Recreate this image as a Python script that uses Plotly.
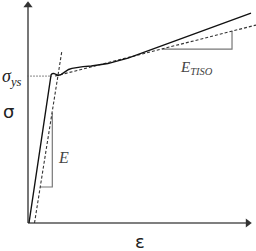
import plotly.graph_objects as go

# Schematic stress-strain curve (arbitrary units)
strain_curve = [0.45, 10.4, 10.9, 11.6, 12.6, 13.6, 15.0, 16.7, 18.3, 19.8, 22.0, 24.8, 28.5, 32.4, 36.0, 39.2, 45.05, 100.45]
stress_curve = [0.0, 67.4, 67.9, 68.0, 67.6, 67.1, 67.6, 68.9, 69.8, 70.3, 70.8, 71.1, 71.4, 71.8, 72.5, 73.4, 75.0, 95.45]

# Elastic (E) tangent line
strain_elastic = [2.93, 15.32]
stress_elastic = [0.0, 78.6]

# Hardening (E_TISO) tangent line
strain_hard = [12.16, 102.7]
stress_hard = [66.8, 90.0]

# Yield stress guide
strain_yield = [-0.45, 10.8]
stress_yield = [66.8, 66.8]

# Slope triangles
strain_tri_E = [5.41, 10.95, 10.95]
stress_tri_E = [16.36, 16.36, 50.0]
strain_tri_T = [60.36, 91.9, 91.9]
stress_tri_T = [79.1, 79.1, 87.3]

# Axes
x_axis_x = [0, 99.0]
x_axis_y = [0, 0]
y_axis_x = [0, 0]
y_axis_y = [0, 99.0]

fig = go.Figure()

axis_col = "#555555"
fig.add_trace(go.Scatter(x=x_axis_x, y=x_axis_y, mode="lines",
                         line=dict(color=axis_col, width=1.6), hoverinfo="skip"))
fig.add_trace(go.Scatter(x=y_axis_x, y=y_axis_y, mode="lines",
                         line=dict(color=axis_col, width=1.6), hoverinfo="skip"))
fig.add_trace(go.Scatter(x=[x_axis_x[-1]], y=[x_axis_y[-1]], mode="markers",
                         marker=dict(symbol="triangle-right", size=8, color="#333333"),
                         hoverinfo="skip"))
fig.add_trace(go.Scatter(x=[y_axis_x[-1]], y=[y_axis_y[-1]], mode="markers",
                         marker=dict(symbol="triangle-up", size=8, color="#333333"),
                         hoverinfo="skip"))

fig.add_trace(go.Scatter(x=strain_tri_E, y=stress_tri_E, mode="lines",
                         line=dict(color="#777777", width=1.2), hoverinfo="skip"))
fig.add_trace(go.Scatter(x=strain_tri_T, y=stress_tri_T, mode="lines",
                         line=dict(color="#777777", width=1.2), hoverinfo="skip"))
fig.add_trace(go.Scatter(x=strain_yield, y=stress_yield, mode="lines",
                         line=dict(color="#666666", width=0.8, dash="2px,1px"), hoverinfo="skip"))
fig.add_trace(go.Scatter(x=strain_elastic, y=stress_elastic, mode="lines",
                         line=dict(color="#333333", width=1.1, dash="3px,2px"), hoverinfo="skip"))
fig.add_trace(go.Scatter(x=strain_hard, y=stress_hard, mode="lines",
                         line=dict(color="#333333", width=1.1, dash="3px,2px"), hoverinfo="skip"))
fig.add_trace(go.Scatter(x=strain_curve, y=stress_curve, mode="lines",
                         line=dict(color="#111111", width=1.4), hoverinfo="skip"))

serif = "Liberation Serif"
sans = "DejaVu Sans"
fig.add_annotation(x=-7.5, y=66.0, xref="x", yref="y", showarrow=False,
                   text="<i>σ<sub>ys</sub></i>", font=dict(family=serif, size=18, color="#222222"))
fig.add_annotation(x=-8.6, y=50.5, xref="x", yref="y", showarrow=False,
                   text="σ", font=dict(family=sans, size=18, color="#222222"))
fig.add_annotation(x=50.5, y=-8.2, xref="x", yref="y", showarrow=False,
                   text="ε", font=dict(family=sans, size=18, color="#222222"))
fig.add_annotation(x=16.2, y=30.0, xref="x", yref="y", showarrow=False,
                   text="<i>E</i>", font=dict(family=serif, size=16, color="#444444"))
fig.add_annotation(x=75.7, y=70.5, xref="x", yref="y", showarrow=False,
                   text="<i>E<sub>TISO</sub></i>", font=dict(family=serif, size=15, color="#444444"))

fig.update_layout(
    width=256, height=251,
    margin=dict(l=0, r=0, t=0, b=0),
    paper_bgcolor="white", plot_bgcolor="white",
    showlegend=False,
    xaxis=dict(visible=False, range=[-12.61, 102.7], fixedrange=True),
    yaxis=dict(visible=False, range=[-12.73, 101.4], fixedrange=True),
)

fig.write_html("out.html", config={"displayModeBar": False})
